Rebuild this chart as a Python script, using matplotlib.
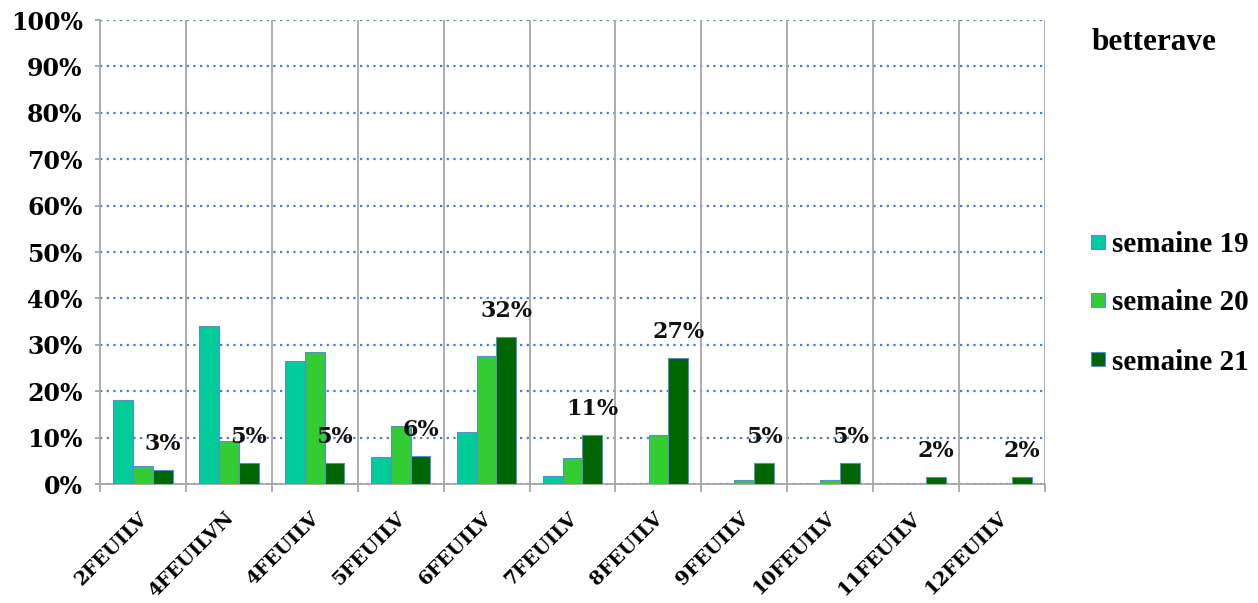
import matplotlib
matplotlib.use("Agg")
import matplotlib.pyplot as plt
from matplotlib.patches import Rectangle
import numpy as np
from matplotlib.ticker import FuncFormatter, MultipleLocator

categories = ["2FEUILV", "4FEUILVN", "4FEUILV", "5FEUILV", "6FEUILV", "7FEUILV",
              "8FEUILV", "9FEUILV", "10FEUILV", "11FEUILV", "12FEUILV"]
semaine19 = [18.1, 34.0, 26.6, 5.9, 11.1, 1.7, 0, 0, 0, 0, 0]
semaine20 = [3.9, 9.3, 28.5, 12.5, 27.6, 5.5, 10.6, 0.9, 0.9, 0, 0]
semaine21 = [3.0, 4.6, 4.6, 6.1, 31.7, 10.6, 27.1, 4.6, 4.6, 1.6, 1.6]
series_names = ["semaine 19", "semaine 20", "semaine 21"]
colors = ["#00CC99", "#33CC33", "#006600"]
legend_title = "betterave"

num_font = ["DejaVu Serif"]
txt_font = ["Liberation Serif", "DejaVu Serif"]

W, H = 1258, 603
fig = plt.figure(figsize=(W / 100, H / 100), dpi=100)
ax = fig.add_axes([100 / W, 119 / H, 945 / W, 464 / H])

x = np.arange(len(categories))
w = 0.23
data = [semaine19, semaine20, semaine21]
bars = []
for i, (vals, c, name) in enumerate(zip(data, colors, series_names)):
    b = ax.bar(x + (i - 1) * w, vals, w, color=c, edgecolor="#5B8BD0",
               linewidth=0.8, label=name, zorder=3)
    bars.append(b)

for xi, v in zip(x, semaine21):
    ax.annotate(f"{round(v):d}%", (xi + w, v), xytext=(0, 26), textcoords="offset pixels",
                ha="center", va="center", fontsize=16, fontweight="bold",
                family=num_font, color="#111111", zorder=5)

ax.set_xlim(-0.5, len(categories) - 0.5)
ax.set_ylim(0, 100)
ax.yaxis.set_major_locator(MultipleLocator(10))
ax.yaxis.set_major_formatter(FuncFormatter(lambda v, p: f"{int(v)}%"))
ax.grid(axis="y", color="#4A7EC8", linestyle=(0, (1, 2)), linewidth=1.6, zorder=1)
ax.set_axisbelow(True)
for b in np.arange(0.5, len(categories) - 0.5, 1):
    ax.axvline(b, color="#A6A6A6", linewidth=1.3, zorder=1)

ax.set_xticks(np.arange(-0.5, len(categories), 1), minor=False)
ax.set_xticklabels([])
# category labels: anchored slightly left of each category centre
ax.set_xticks(x - 0.05, minor=True)
ax.set_xticklabels(categories, minor=True, rotation=45, ha="right",
                   rotation_mode="anchor", fontsize=14, fontweight="bold", family=num_font)
ax.tick_params(axis="x", which="minor", length=0, pad=18)
ax.tick_params(axis="x", which="major", length=6, color="#A6A6A6", width=1.3)
ax.tick_params(axis="y", length=3.5, color="#A6A6A6", width=1.3, labelsize=17, pad=9)
for lab in ax.get_yticklabels():
    lab.set_fontweight("bold")
    lab.set_family(num_font)

for s in ["top", "right"]:
    ax.spines[s].set_visible(False)
for s in ["left", "bottom"]:
    ax.spines[s].set_color("#A6A6A6")
    ax.spines[s].set_linewidth(1.3)
ax.axvline(len(categories) - 0.5, color="#A6A6A6", linewidth=1.3, zorder=1)

# legend title and entries
fig.text(1092 / W, 1 - 43 / H, legend_title, fontsize=22.5, fontweight="bold",
         family=txt_font, va="center", ha="left")
row_y = [242, 300, 359]
for c, name, yy in zip(colors, series_names, row_y):
    fig.patches.append(Rectangle((1091 / W, 1 - (yy + 7) / H), 14 / W, 14 / H,
                                 transform=fig.transFigure, facecolor=c,
                                 edgecolor="#5B8BD0", linewidth=0.8))
    fig.text(1112 / W, 1 - yy / H, name, fontsize=21, fontweight="bold",
             family=txt_font, va="center_baseline", ha="left")

fig.savefig("out.png", dpi=100)
